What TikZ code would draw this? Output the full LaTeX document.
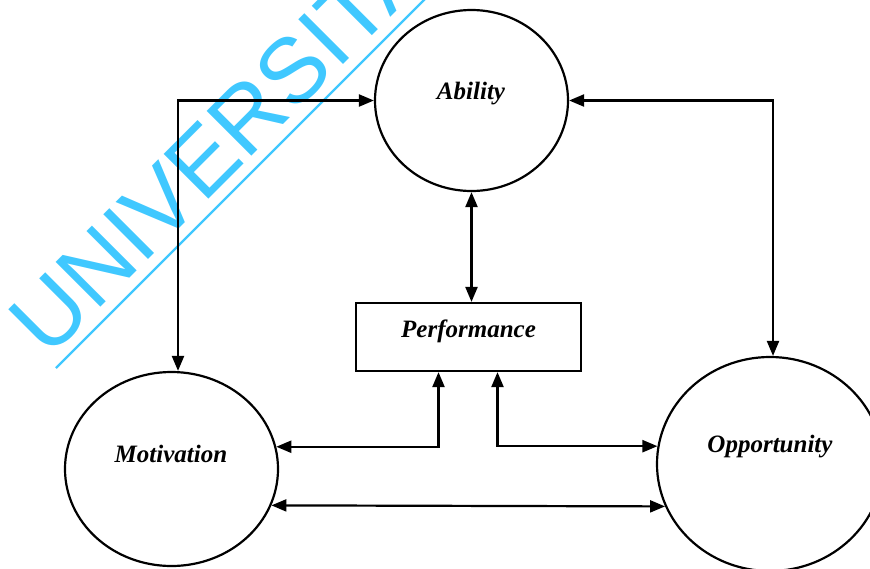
\documentclass[tikz,border=0pt]{standalone}
\usepackage{fontspec}
\setmainfont{Liberation Serif}
\newfontfamily\wmfont{Liberation Sans}
\usetikzlibrary{arrows.meta,shapes.geometric}
\definecolor{wmcyan}{RGB}{64,200,255}
\begin{document}
\begin{tikzpicture}[x=1pt,y=-1pt,
  >={Triangle[length=15pt,width=12pt]},
  conn/.style={<->, line width=2.2pt, black},
  bubble/.style={ellipse, draw, line width=2.2pt, inner sep=0pt},
  pbox/.style={rectangle, draw, line width=2.2pt, minimum width=225pt,
               minimum height=68pt, inner sep=0pt},
  lab/.style={font=\fontsize{25}{30}\selectfont\bfseries\itshape, anchor=base, inner sep=0pt},
  wmark/.style={text=wmcyan, font=\wmfont\fontsize{92}{92}\selectfont,
                rotate=45, anchor=base west, inner sep=0pt}]
\clip (0,0) rectangle (870,568);

% watermark stamp
\node[wmark] (wm) at (48,360) {UNIVERSITA};
\draw[wmcyan, line width=2.2pt] (56,368) -- (440,-16);

% the four factors
\node[bubble, minimum width=193pt, minimum height=181pt] (ab) at (471.5,100.5) {};
\node[bubble, minimum width=213pt, minimum height=194pt] (mo) at (171.5,469) {};
\node[bubble, minimum width=226pt, minimum height=214pt] (op) at (770,464) {};
\node[pbox] (pf) at (468.5,337) {};

\node[lab] (abt) at (471,99) {Ability};
\node[lab] (mot) at (171,462) {Motivation};
\node[lab] (opt) at (770,452) {Opportunity};
\node[lab] (pft) at (468.5,337) {Performance};

% links
\coordinate (k1) at (178,100.5);
\draw[conn] (ab.west) -- (k1) -- (k1 |- mo.north);
\draw[conn] (ab.east) -| ([xshift=3pt]op.north);
\draw[conn] (ab.south) -- (ab.south |- pf.north);
\draw[conn] ([xshift=-30pt]pf.south) |- (mo.12.5);
\draw[conn] ([xshift=29pt]pf.south) |- (op.171);
\draw[conn] (mo.-20.6) -- (op.202);
\end{tikzpicture}
\end{document}
